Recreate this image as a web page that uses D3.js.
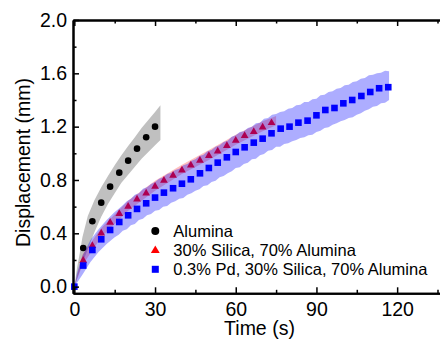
<!DOCTYPE html>
<html>
<head>
<meta charset="utf-8">
<script src="https://cdn.jsdelivr.net/npm/d3@7"></script>
<style>
    body { margin: 0; background: #fff; }
    svg { display: block; font-family: Arial, "Liberation Sans", sans-serif; }
</style>
</head>
<body>
<div id="chart"></div>
<script>
// values: time (s), displacement (mm)
var aluminaTime = [3.3, 6.7, 10, 13.3, 16.7, 20, 23.3, 26.7, 30];
var aluminaDisp = [0.29, 0.49, 0.63, 0.75, 0.855, 0.945, 1.035, 1.12, 1.2];

var silicaTime = [3.3, 6.7, 10, 13.3, 16.7, 20, 23.3, 26.7, 30, 33.3, 36.7, 40, 43.3, 46.7, 50, 53.3, 56.7, 60, 63.3, 66.7, 70, 73.3];
var silicaDisp = [0.2, 0.31, 0.405, 0.485, 0.55, 0.605, 0.66, 0.705, 0.755, 0.8, 0.838, 0.877, 0.915, 0.95, 0.985, 1.02, 1.06, 1.1, 1.135, 1.165, 1.2, 1.232];

var pdTime = [0, 3.3, 6.7, 10, 13.3, 16.7, 20, 23.3, 26.7, 30, 33.3, 36.7, 40, 43.3, 46.7, 50, 53.3, 56.7, 60, 63.3, 66.7, 70, 73.3, 76.7, 80, 83.3, 86.7, 90, 93.3, 96.7, 100, 103.3, 106.7, 110, 113.3, 116.7];
var pdDisp = [0, 0.158, 0.275, 0.355, 0.425, 0.485, 0.535, 0.583, 0.625, 0.668, 0.705, 0.738, 0.772, 0.805, 0.85, 0.89, 0.93, 0.97, 1.01, 1.045, 1.08, 1.11, 1.15, 1.185, 1.2, 1.23, 1.245, 1.285, 1.325, 1.34, 1.375, 1.4, 1.43, 1.46, 1.488, 1.496];

// shaded spread around each series
var aluminaBandTime = [0, 1, 2, 3, 5, 7.5, 10, 12.5, 15, 17.5, 20, 22.5, 25, 27.5, 30, 32];
var aluminaBandLow = [0, 0.06, 0.12, 0.175, 0.28, 0.41, 0.525, 0.62, 0.7, 0.78, 0.84, 0.9, 0.96, 1.01, 1.06, 1.1];
var aluminaBandHigh = [0, 0.14, 0.25, 0.37, 0.53, 0.65, 0.745, 0.83, 0.91, 0.985, 1.055, 1.12, 1.19, 1.25, 1.31, 1.36];

var silicaBandTime = [0, 3, 10, 20, 30, 40, 50, 60, 70, 75];
var silicaBandLow = [0, 0.16, 0.37, 0.57, 0.72, 0.845, 0.95, 1.065, 1.165, 1.21];
var silicaBandHigh = [0, 0.24, 0.44, 0.645, 0.795, 0.915, 1.025, 1.14, 1.24, 1.28];

var pdBandTime = [0, 1, 2, 3, 6, 9, 12, 15, 16.5, 18, 19.5, 21, 22.5, 24, 25.5, 27, 28.5, 30, 31.5, 33, 34.5, 36, 37.5, 39, 40.5, 42, 43.5, 45, 46.5, 48, 49.5, 51, 52.5, 54, 55.5, 57, 58.5, 60, 61.5, 63, 64.5, 66, 67.5, 69, 70.5, 72, 73.5, 75, 76.5, 78, 79.5, 81, 82.5, 84, 85.5, 87, 88.5, 90, 91.5, 93, 94.5, 96, 97.5, 99, 100.5, 102, 103.5, 105, 106.5, 108, 109.5, 111, 112.5, 114, 115.5, 117];
var pdBandLow = [0, 0.03, 0.06, 0.09, 0.185, 0.26, 0.32, 0.37, 0.39, 0.42, 0.43, 0.46, 0.47, 0.5, 0.51, 0.535, 0.545, 0.57, 0.575, 0.6, 0.605, 0.63, 0.64, 0.66, 0.665, 0.69, 0.7, 0.72, 0.73, 0.755, 0.76, 0.785, 0.795, 0.82, 0.83, 0.85, 0.865, 0.89, 0.895, 0.92, 0.93, 0.955, 0.96, 0.985, 0.995, 1.02, 1.025, 1.05, 1.05, 1.07, 1.075, 1.09, 1.1, 1.115, 1.12, 1.135, 1.14, 1.16, 1.17, 1.19, 1.195, 1.215, 1.225, 1.24, 1.25, 1.265, 1.27, 1.29, 1.3, 1.32, 1.33, 1.35, 1.355, 1.375, 1.38, 1.4];
var pdBandHigh = [0, 0.1, 0.17, 0.23, 0.35, 0.43, 0.5, 0.56, 0.585, 0.61, 0.64, 0.66, 0.69, 0.7, 0.735, 0.745, 0.77, 0.785, 0.81, 0.82, 0.845, 0.855, 0.875, 0.885, 0.91, 0.92, 0.945, 0.955, 0.98, 0.99, 1.015, 1.025, 1.05, 1.06, 1.085, 1.095, 1.125, 1.135, 1.16, 1.165, 1.19, 1.2, 1.225, 1.23, 1.26, 1.265, 1.29, 1.295, 1.31, 1.315, 1.335, 1.34, 1.36, 1.365, 1.385, 1.385, 1.405, 1.41, 1.435, 1.44, 1.46, 1.465, 1.485, 1.49, 1.51, 1.515, 1.535, 1.54, 1.56, 1.565, 1.585, 1.59, 1.6, 1.605, 1.62, 1.615];

var xMajor = [0, 30, 60, 90, 120];
var xMinor = [15, 45, 75, 105, 135];
var yMajor = [0, 0.4, 0.8, 1.2, 1.6, 2.0];
var yMinor = [0.2, 0.6, 1.0, 1.4, 1.8];

var legendNames = ["Alumina", "30% Silica, 70% Alumina", "0.3% Pd, 30% Silica, 70% Alumina"];

var width = 440, height = 339;

var svg = d3.select('#chart').append('svg')
    .attr('width', width)
    .attr('height', height);

var x = d3.scaleLinear().domain([-0.5, 150]).range([73, 73 + 150.5 * 2.69]);
var y = d3.scaleLinear().domain([-0.05, 2.0]).range([293.3, 20]);

var zip = function (t, a, b) {
    return t.map(function (d, i) {
        return {t: d, lo: a[i], hi: b ? b[i] : a[i]};
    });
};

var area = d3.area()
    .x(function (d) { return x(d.t); })
    .y0(function (d) { return y(d.lo); })
    .y1(function (d) { return y(d.hi); });

// bands + markers, drawn in the order that gives the overlap colours
svg.append('path').datum(zip(aluminaBandTime, aluminaBandLow, aluminaBandHigh))
    .attr('d', area).attr('fill', '#c0c0c0');

svg.selectAll('circle.al').data(zip(aluminaTime, aluminaDisp))
    .enter().append('circle')
    .attr('class', 'al')
    .attr('cx', function (d) { return x(d.t); })
    .attr('cy', function (d) { return y(d.lo); })
    .attr('r', 3.3)
    .attr('fill', '#000');

svg.append('path').datum(zip(silicaBandTime, silicaBandLow, silicaBandHigh))
    .attr('d', area).attr('fill', '#ff0000').attr('fill-opacity', 0.25);

var tri = d3.symbol().type(d3.symbolTriangle).size(26);
svg.selectAll('path.si').data(zip(silicaTime, silicaDisp))
    .enter().append('path')
    .attr('class', 'si')
    .attr('d', tri)
    .attr('transform', function (d) { return 'translate(' + x(d.t) + ',' + (y(d.lo) + 0.5) + ')'; })
    .attr('fill', '#ff0000');

svg.append('path').datum(zip(pdBandTime, pdBandLow, pdBandHigh))
    .attr('d', area).attr('fill', '#0000ff').attr('fill-opacity', 0.32);

svg.selectAll('rect.pd').data(zip(pdTime, pdDisp))
    .enter().append('rect')
    .attr('class', 'pd')
    .attr('x', function (d) { return x(d.t) - 3.3; })
    .attr('y', function (d) { return y(d.lo) - 3.3; })
    .attr('width', 6.6)
    .attr('height', 6.6)
    .attr('fill', '#0000ff');

// axes (ticks point inward)
var styleAxis = function (g, fontSize) {
    g.select('.domain').attr('stroke', '#000').attr('stroke-width', 2);
    g.selectAll('.tick line').attr('stroke', '#000').attr('stroke-width', 1.5);
    g.selectAll('.tick text').attr('fill', '#000').style('font-size', fontSize + 'px')
        .style('font-family', 'Arial, "Liberation Sans", sans-serif');
};

var gx = svg.append('g').attr('transform', 'translate(0,' + y(-0.05) + ')')
    .call(d3.axisBottom(x).tickValues(xMajor).tickSize(-6).tickSizeOuter(0).tickPadding(9).tickFormat(d3.format('d')));
styleAxis(gx, 19.5);
var gxm = svg.append('g').attr('transform', 'translate(0,' + y(-0.05) + ')')
    .call(d3.axisBottom(x).tickValues(xMinor).tickSize(-3.5).tickSizeOuter(0).tickFormat(''));
styleAxis(gxm, 19.5);

var gt = svg.append('g').attr('transform', 'translate(0,' + y(2.0) + ')')
    .call(d3.axisTop(x).tickValues(xMajor).tickSize(-6).tickSizeOuter(0).tickFormat(''));
styleAxis(gt, 19.5);
var gtm = svg.append('g').attr('transform', 'translate(0,' + y(2.0) + ')')
    .call(d3.axisTop(x).tickValues(xMinor).tickSize(-3.5).tickSizeOuter(0).tickFormat(''));
styleAxis(gtm, 19.5);

var gy = svg.append('g').attr('transform', 'translate(' + x(-0.5) + ',0)')
    .call(d3.axisLeft(y).tickValues(yMajor).tickSize(-6).tickSizeOuter(0).tickPadding(6).tickFormat(d3.format('.1f')));
styleAxis(gy, 19.5);
var gym = svg.append('g').attr('transform', 'translate(' + x(-0.5) + ',0)')
    .call(d3.axisLeft(y).tickValues(yMinor).tickSize(-3.5).tickSizeOuter(0).tickFormat(''));
styleAxis(gym, 19.5);

// axis titles
svg.append('text')
    .attr('x', 259.5).attr('y', 334.5)
    .attr('text-anchor', 'middle')
    .style('font-size', '19.5px')
    .text('Time (s)');

svg.append('text')
    .attr('transform', 'translate(29.5,162.5) rotate(-90)')
    .attr('text-anchor', 'middle')
    .style('font-size', '19.5px')
    .text('Displacement (mm)');

// legend
var legend = svg.append('g').attr('transform', 'translate(155.3,231)');
legend.append('circle').attr('cx', 0).attr('cy', 0).attr('r', 4).attr('fill', '#000');
legend.append('path').attr('d', d3.symbol().type(d3.symbolTriangle).size(34))
    .attr('transform', 'translate(0,' + (19 + 0.5) + ')').attr('fill', '#ff0000');
legend.append('rect').attr('x', -3.5).attr('y', 38.3 - 3.5).attr('width', 7).attr('height', 7).attr('fill', '#0000ff');

legend.selectAll('text').data(legendNames)
    .enter().append('text')
    .attr('x', 18)
    .attr('y', function (d, i) { return i * 19.2 + 6; })
    .style('font-size', '16.5px')
    .text(function (d) { return d; });
</script>
</body>
</html>
